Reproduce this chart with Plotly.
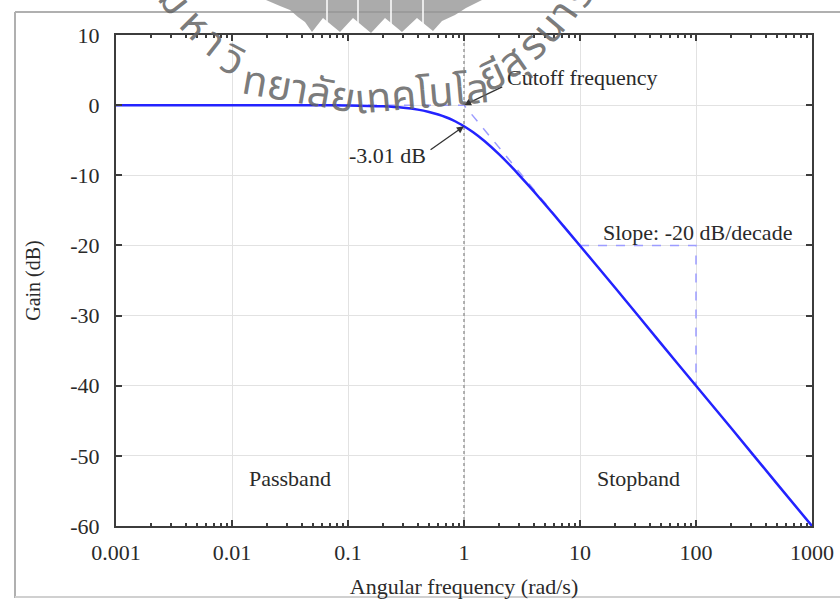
import plotly.graph_objects as go
import math

# ---- data ----
omega = [0.001, 0.01, 0.05, 0.1, 0.2, 0.3, 0.4, 0.5, 0.6, 0.7, 0.8, 0.9, 1.0,
         1.2, 1.5, 2, 2.5, 3, 4, 5, 7, 10, 20, 50, 100, 200, 500, 1000]
gain_db = [0, 0, -0.01, -0.04, -0.17, -0.37, -0.64, -0.97, -1.34, -1.73, -2.15, -2.58, -3.01,
           -3.87, -5.12, -6.99, -8.60, -10.0, -12.3, -14.15, -17.0, -20.04, -26.0, -34.0,
           -40.0, -46.0, -54.0, -60.0]

asym_omega = [0.001, 1, 1000]
asym_gain = [0, 0, -60]

slope_omega = [10, 100, 100]
slope_gain = [-20, -20, -40]

cutoff_omega = [1, 1]
cutoff_gain = [-60, 10]

x_tickvals = [0.001, 0.01, 0.1, 1, 10, 100, 1000]
x_ticktext = ["0.001", "0.01", "0.1", "1", "10", "100", "1000"]
y_tickvals = [10, 0, -10, -20, -30, -40, -50, -60]
y_ticktext = ["10", "0", "-10", "-20", "-30", "-40", "-50", "-60"]

SERIF = "Liberation Serif, Times New Roman, serif"
THAI = "Noto Sans Thai, Loma, Garuda, Noto Sans, sans-serif"
TXT = "#2a2a2a"
FS = 22

# plot area in pixels (for decoration placement)
L, R, T, B = 116, 812, 35, 526
W, H = 840, 599


def px(x):
    return (x - L) / (R - L)


def py(y):
    return (B - y) / (B - T)


fig = go.Figure()

fig.add_trace(go.Scatter(x=cutoff_omega, y=cutoff_gain, mode="lines",
                         line=dict(color="#9a9a9a", width=1.5, dash="dot"),
                         hoverinfo="skip", showlegend=False))
fig.add_trace(go.Scatter(x=asym_omega, y=asym_gain, mode="lines",
                         line=dict(color="#9c9cff", width=1.5, dash="dash"),
                         hoverinfo="skip", showlegend=False))
fig.add_trace(go.Scatter(x=slope_omega, y=slope_gain, mode="lines",
                         line=dict(color="#9c9cff", width=1.5, dash="dash"),
                         hoverinfo="skip", showlegend=False))
fig.add_trace(go.Scatter(x=omega, y=gain_db, mode="lines",
                         line=dict(color="#2323ff", width=2.5, shape="spline", smoothing=0.6),
                         showlegend=False))

anns = []
anns.append(dict(x=0, y=0, xref="x", yref="y", ax=math.log10(2.2), ay=2.7,
                 axref="x", ayref="y", text="", showarrow=True, arrowhead=2,
                 arrowsize=1.1, arrowwidth=1.3, arrowcolor="#333"))
anns.append(dict(x=math.log10(10.5), y=3.9, xref="x", yref="y", text="Cutoff frequency",
                 showarrow=False, font=dict(family=SERIF, size=FS, color=TXT)))
anns.append(dict(x=0, y=-3.01, xref="x", yref="y", ax=math.log10(0.5), ay=-6.5,
                 axref="x", ayref="y", text="", showarrow=True, arrowhead=2,
                 arrowsize=1.1, arrowwidth=1.3, arrowcolor="#333"))
anns.append(dict(x=math.log10(0.22), y=-7.2, xref="x", yref="y", text="-3.01 dB",
                 showarrow=False, font=dict(family=SERIF, size=FS, color=TXT)))
anns.append(dict(x=math.log10(102), y=-18.1, xref="x", yref="y", text="Slope: -20 dB/decade",
                 showarrow=False, font=dict(family=SERIF, size=FS, color=TXT)))
anns.append(dict(x=math.log10(0.0316), y=-53.2, xref="x", yref="y", text="Passband",
                 showarrow=False, font=dict(family=SERIF, size=FS, color=TXT)))
anns.append(dict(x=math.log10(32), y=-53.2, xref="x", yref="y", text="Stopband",
                 showarrow=False, font=dict(family=SERIF, size=FS, color=TXT)))

# watermark: Thai university name along an arc (text, centre x px, centre y px, angle)
wm = [("ม", 174, 0, 52), ("ห", 195, 25, 45), ("า", 213, 43, 38), ("วิ", 232, 61, 28),
      ("ทยาลัย", 299, 90, 10), ("เทคโนโล", 421, 95, -5),
      ("ยี", 493, 76, -25), ("สุ", 512, 63, -35), ("ร", 533, 46, -45), ("น", 549, 29, -50),
      ("า", 564, 12, -55), ("รี", 579, -5, -58)]
for ch, cx, cy, ang in wm:
    anns.append(dict(x=px(cx), y=py(cy), xref="paper", yref="paper", text=ch,
                     showarrow=False, textangle=ang, xanchor="center", yanchor="middle",
                     font=dict(family=THAI, size=41, color="rgba(100,100,100,0.85)")))

shapes = []
shapes.append(dict(type="line", xref="paper", yref="paper", x0=px(15), x1=px(15),
                   y0=py(12), y1=py(598), line=dict(color="#b0b0b0", width=2)))
shapes.append(dict(type="line", xref="paper", yref="paper", x0=px(15), x1=px(845),
                   y0=py(12), y1=py(12), line=dict(color="#b0b0b0", width=2)))
shapes.append(dict(type="line", xref="paper", yref="paper", x0=px(15), x1=px(845),
                   y0=py(597), y1=py(597), line=dict(color="#d0d0d0", width=2)))

# logo (grey banner) at top centre
logo_pts = [(266, 0), (280, 6), (290, 10), (298, 17), (305, 22), (312, 32), (323, 18),
            (340, 32), (353, 18), (371, 33), (385, 18), (402, 32), (417, 18), (433, 31),
            (442, 21), (455, 15), (466, 8), (482, 0)]
path = "M " + " L ".join(f"{px(a):.5f},{py(b):.5f}" for a, b in logo_pts) + " Z"
shapes.append(dict(type="path", xref="paper", yref="paper", path=path,
                   fillcolor="rgba(150,150,150,0.8)", line=dict(width=0), layer="above"))
for sx in [327, 358, 391, 423]:
    shapes.append(dict(type="line", xref="paper", yref="paper", x0=px(sx), x1=px(sx),
                       y0=py(0), y1=py(24), line=dict(color="white", width=1.5),
                       layer="above"))

axis_common = dict(showline=True, linecolor="#3c3c3c", linewidth=2, mirror="ticks",
                   ticks="inside", tickcolor="#3c3c3c", ticklen=6, tickwidth=1.5,
                   showgrid=True, gridcolor="#e2e2e2", gridwidth=1, zeroline=False,
                   automargin=False,
                   tickfont=dict(family=SERIF, size=FS, color=TXT))

fig.update_layout(
    width=W, height=H,
    margin=dict(l=L, r=W - R, t=T, b=H - B, autoexpand=False),
    paper_bgcolor="white", plot_bgcolor="white",
    xaxis=dict(type="log", range=[-3, 3], tickvals=x_tickvals, ticktext=x_ticktext,
               ticklabelstandoff=6,
               title=dict(text="Angular frequency (rad/s)", standoff=14,
                          font=dict(family=SERIF, size=22, color=TXT)),
               minor=dict(ticks="inside", ticklen=3, tickcolor="#3c3c3c", dtick="D1",
                          showgrid=False),
               **axis_common),
    yaxis=dict(range=[-60, 10], tickvals=y_tickvals, ticktext=y_ticktext,
               ticklabelstandoff=10,
               title=dict(text="Gain (dB)", standoff=24,
                          font=dict(family=SERIF, size=20, color=TXT)),
               **axis_common),
    annotations=anns,
    shapes=shapes,
)

fig.write_html("out.html")
